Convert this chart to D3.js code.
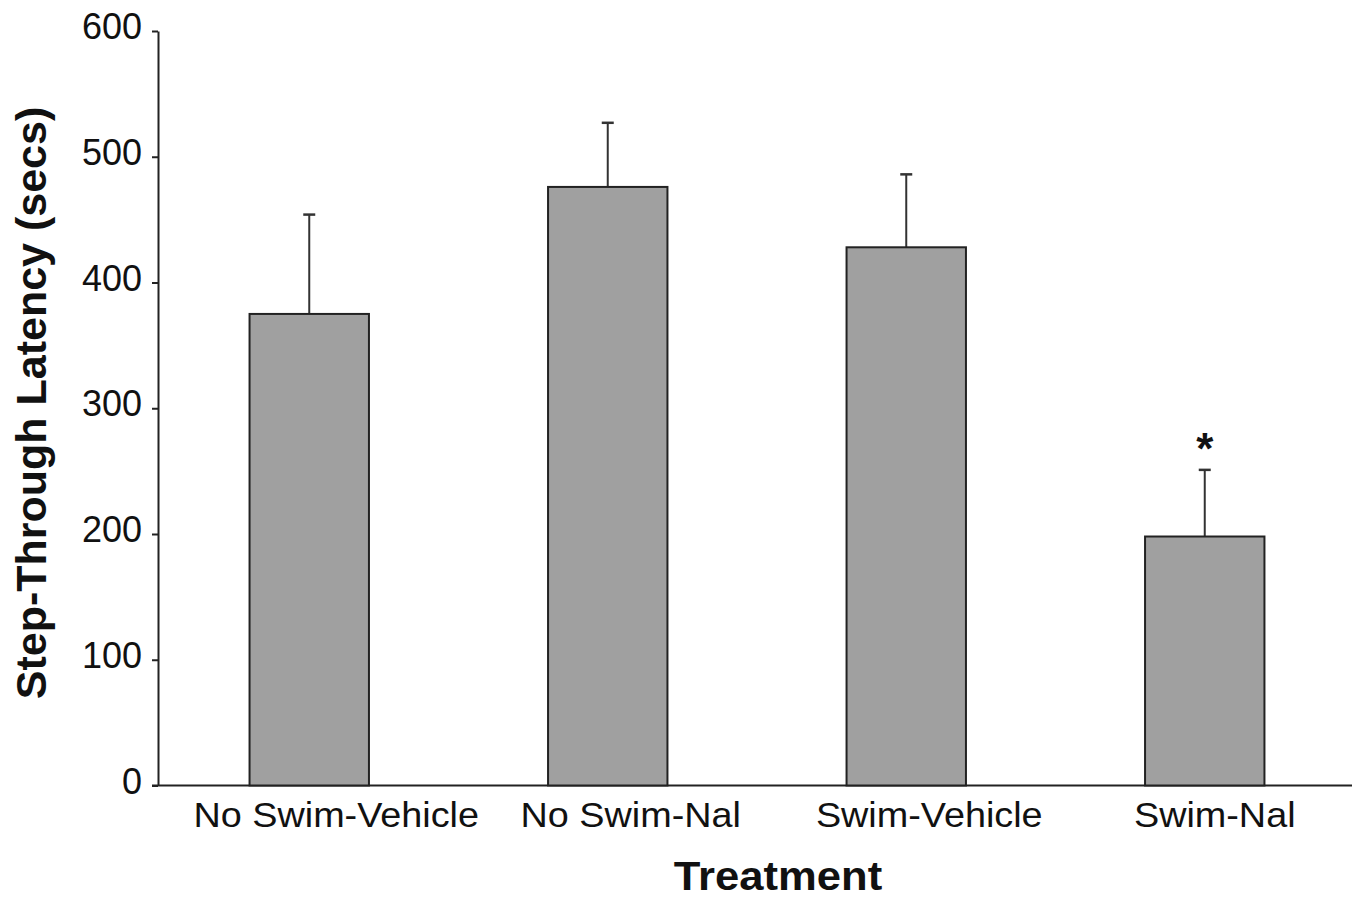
<!DOCTYPE html>
<html>
<head>
<meta charset="utf-8">
<script src="https://cdn.jsdelivr.net/npm/d3@7"></script>
<style>
  body { margin: 0; background: #fff; }
  svg text { font-family: Arial, "Liberation Sans", sans-serif; fill: #111; }
</style>
</head>
<body>
<div id="chart"></div>
<script>
// data
const groups = ['No Swim-Vehicle', 'No Swim-Nal', 'Swim-Vehicle', 'Swim-Nal'];
const means = [375, 476, 428, 198];
const sems = [79, 51, 58, 53];
const marks = ['', '', '', '*'];
const yTicks = [0, 100, 200, 300, 400, 500, 600];

// the category labels sit a bit right of the bar centres in the original
const labelNudge = [27, 23, 23, 10];

const W = 1358, H = 899;
const svg = d3.select('#chart').append('svg')
    .attr('width', W)
    .attr('height', H);

const x = d3.scaleBand()
    .domain(groups)
    .range([160, 1354])
    .paddingInner(0.6)
    .paddingOuter(0.3);

const y = d3.scaleLinear()
    .domain([0, 600])
    .range([785.5, 31]);

// y axis
const yAxis = svg.append('g')
    .attr('transform', 'translate(158,0)')
    .call(d3.axisLeft(y).tickValues(yTicks).tickSize(6).tickPadding(10).tickSizeOuter(0));
yAxis.select('.domain').attr('stroke', '#222').attr('stroke-width', 2);
yAxis.selectAll('.tick line').attr('stroke', '#222').attr('stroke-width', 2);
yAxis.selectAll('.tick text')
    .style('font-size', '36px')
    .attr('fill', '#111')
    .attr('y', -4);

// x axis line
svg.append('line')
    .attr('x1', 152).attr('x2', 1352)
    .attr('y1', y(0)).attr('y2', y(0))
    .attr('stroke', '#222').attr('stroke-width', 2);

// error bars (drawn before bars so the stem starts at bar top)
const err = svg.append('g');
groups.forEach((g, i) => {
    const cx = x(g) + x.bandwidth() / 2;
    err.append('line')
        .attr('x1', cx).attr('x2', cx)
        .attr('y1', y(means[i])).attr('y2', y(means[i] + sems[i]))
        .attr('stroke', '#333').attr('stroke-width', 2);
    err.append('line')
        .attr('x1', cx - 6).attr('x2', cx + 6)
        .attr('y1', y(means[i] + sems[i])).attr('y2', y(means[i] + sems[i]))
        .attr('stroke', '#333').attr('stroke-width', 2.5);
});

svg.append('g').selectAll('rect')
    .data(groups)
    .join('rect')
    .attr('x', d => x(d))
    .attr('y', (d, i) => y(means[i]))
    .attr('width', x.bandwidth())
    .attr('height', (d, i) => y(0) - y(means[i]))
    .attr('fill', '#a0a0a0')
    .attr('stroke', '#222')
    .attr('stroke-width', 2);

// significance marks
svg.append('g').selectAll('text')
    .data(groups)
    .join('text')
    .attr('x', d => x(d) + x.bandwidth() / 2)
    .attr('y', (d, i) => y(means[i] + sems[i]) - 6)
    .attr('text-anchor', 'middle')
    .style('font-size', '44px')
    .style('font-weight', 'bold')
    .text((d, i) => marks[i]);

// category labels, a little wider than Arial
svg.append('g').selectAll('text')
    .data(groups)
    .join('text')
    .attr('transform', (d, i) => `translate(${x(d) + x.bandwidth() / 2 + labelNudge[i]},827) scale(1.08,1)`)
    .attr('text-anchor', 'middle')
    .style('font-size', '35px')
    .text(d => d);

// axis titles
svg.append('text')
    .attr('transform', 'translate(778,890) scale(1.09,1)')
    .attr('text-anchor', 'middle')
    .style('font-size', '40px')
    .style('font-weight', 'bold')
    .text('Treatment');

svg.append('text')
    .attr('transform', 'translate(46,403) rotate(-90)')
    .attr('text-anchor', 'middle')
    .style('font-size', '43px')
    .style('font-weight', 'bold')
    .text('Step-Through Latency (secs)');
</script>
</body>
</html>
